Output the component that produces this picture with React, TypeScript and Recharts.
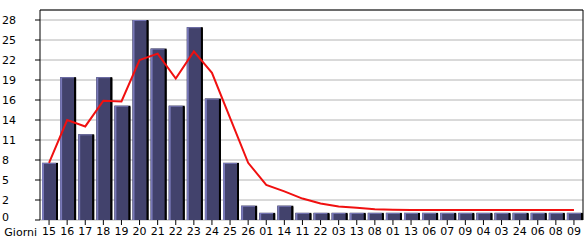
import React from 'react';
import { ComposedChart, Bar, Line, XAxis, YAxis, CartesianGrid, ReferenceLine } from 'recharts';

const giorni = ['15', '16', '17', '18', '19', '20', '21', '22', '23', '24', '25', '26', '01', '14', '11', '22', '03', '13', '08', '01', '13', '06', '07', '09', '04', '03', '24', '06', '08', '09'];
const visite = [8, 20, 12, 20, 16, 28, 24, 16, 27, 17, 8, 2, 1, 2, 1, 1, 1, 1, 1, 1, 1, 1, 1, 1, 1, 1, 1, 1, 1, 1];
const media = [8, 14, 13.1, 16.7, 16.6, 22.4, 23.3, 19.8, 23.6, 20.6, 14.3, 8, 4.9, 4, 3, 2.3, 1.9, 1.7, 1.5, 1.45, 1.4, 1.4, 1.4, 1.4, 1.4, 1.4, 1.4, 1.4, 1.4, 1.4];
const yTicks = [0, 2.8, 5.6, 8.4, 11.2, 14, 16.8, 19.6, 22.4, 25.2, 28];

const data = giorni.map((g, i) => ({ idx: i, giorno: g, visite: visite[i], media: media[i] }));

const FONT = 'DejaVu Sans, Verdana, sans-serif';

const BarShape = (props: any) => {
    const { x, y, width, height } = props;
    if (!height || height <= 0) return null;
    return (
        <g>
            <rect x={x + 1} y={y} width={width} height={height} fill="#000" />
            <rect x={x + 1} y={y} width={width - 2} height={height} fill="#7878b8" />
            <rect x={x + 3} y={y + 1} width={width - 4} height={height - 1} fill="#42426c" />
            <rect x={x + width - 1} y={y + 1} width={2} height={height - 1} fill="#000" />
        </g>
    );
};

const YTick = (props: any) => {
    const { y, payload } = props;
    // lo zero sta un po' piu' in alto per non toccare "Giorni"
    const dy = payload.value === 0 ? 1 : 4;
    return (
        <text x={2} y={y + dy} textAnchor="start" fontSize={11} fontFamily={FONT} fill="#000">
            {Math.floor(payload.value + 1e-6)}
        </text>
    );
};

export default function App() {
    return (
        <div style={{ width: 585, height: 240, background: '#fff' }}>
            <style>{'body{margin:0}'}</style>
            <ComposedChart
                width={585}
                height={240}
                data={data}
                margin={{ top: 10, right: 0, left: 0, bottom: 0 }}
                barCategoryGap={1}
            >
                <CartesianGrid horizontal vertical={false} stroke="#b4b4b4" strokeWidth={1} />
                <XAxis
                    dataKey="idx"
                    height={20}
                    axisLine={false}
                    tickLine={{ stroke: '#000' }}
                    tickSize={5}
                    interval={0}
                    tickFormatter={(v: number) => giorni[v]}
                    tick={{ fontSize: 11, fontFamily: FONT, fill: '#000' }}
                    label={{ value: 'Giorni', position: 'left', offset: 3, dy: 2, fontSize: 11, fontFamily: FONT, fill: '#000' }}
                />
                <YAxis
                    width={40}
                    domain={[0, 29.4]}
                    ticks={yTicks}
                    interval={0}
                    axisLine={{ stroke: '#000' }}
                    tickLine={{ stroke: '#000' }}
                    tickSize={5}
                    tick={<YTick />}
                />
                <YAxis
                    yAxisId="bordo"
                    orientation="right"
                    width={2}
                    domain={[0, 29.4]}
                    tick={false}
                    tickLine={false}
                    axisLine={{ stroke: '#000' }}
                />
                <ReferenceLine y={29.4} stroke="#000" />
                <Bar dataKey="visite" barSize={16} shape={<BarShape />} isAnimationActive={false} />
                <Line
                    type="linear"
                    dataKey="media"
                    stroke="#f01010"
                    strokeWidth={2}
                    dot={false}
                    activeDot={false}
                    isAnimationActive={false}
                />
            </ComposedChart>
        </div>
    );
}
